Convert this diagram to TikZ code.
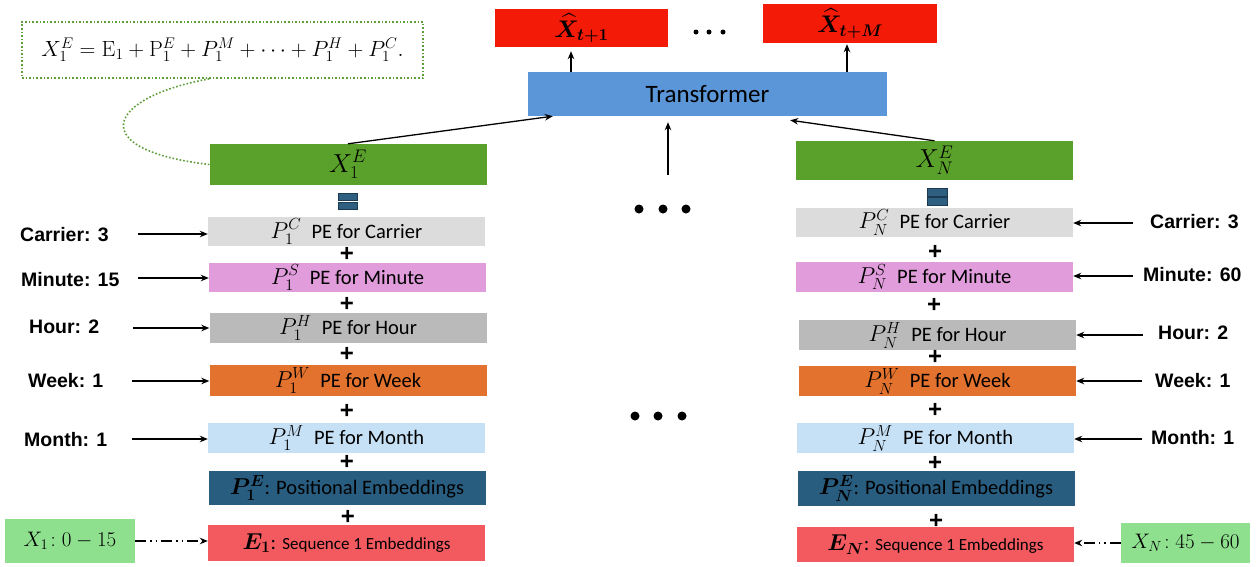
\RequirePackage{fix-cm}
\documentclass[tikz,border=0pt]{standalone}
\usepackage{amsmath}
\usepackage{bm}
\usepackage[no-math]{fontspec}
\setmainfont{Carlito}
\newfontfamily\labfont{Liberation Sans}
\usetikzlibrary{arrows.meta,calc}

\definecolor{xgreen}{HTML}{5AA12B}
\definecolor{carrgray}{HTML}{DCDCDC}
\definecolor{minorchid}{HTML}{E09CDB}
\definecolor{hourgray}{HTML}{BABABA}
\definecolor{weekorange}{HTML}{E2722E}
\definecolor{monthblue}{HTML}{C6E1F5}
\definecolor{posblue}{HTML}{285D80}
\definecolor{seqred}{HTML}{F25A5F}
\definecolor{inpgreen}{HTML}{8EE08F}
\definecolor{trblue}{HTML}{5A96D8}
\definecolor{outred}{HTML}{F31A08}
\definecolor{dotgreen}{HTML}{5E9E3A}
\definecolor{eqfill}{HTML}{2E5E80}
\definecolor{eqline}{HTML}{1C3A52}

% math set slightly larger than the surrounding text
\newcommand{\pemath}[1]{{\fontsize{23}{24}\selectfont$#1$}}

\begin{document}
\begin{tikzpicture}[x=1pt,y=-1pt,
  bx/.style={rectangle, inner sep=0pt, minimum width=277pt,
    font=\fontsize{20.5}{24}\selectfont},
  plus/.style={inner sep=0pt, font=\labfont\bfseries\fontsize{24}{24}\selectfont},
  lab/.style={inner sep=0pt, anchor=west, font=\labfont\bfseries\fontsize{19.5}{22}\selectfont},
  arr/.style={line width=1.3pt, -{Stealth[length=8pt,width=6.5pt]}},
  dd/.style={arr, dash pattern=on 11pt off 4pt on 1.5pt off 4pt on 1.5pt off 4pt},
  eqbar/.style={draw=eqline, fill=eqfill, line width=0.8pt},
  dot/.style={circle, fill=black, inner sep=0pt}
]
\useasboundingbox (0,0) rectangle (1256,566);
\fill[white] (0,0) rectangle (1256,566);

% formula box
\node[draw=dotgreen, line width=1.6pt, dotted, rectangle, inner sep=0pt,
  minimum width=401pt, minimum height=56pt, font=\fontsize{22}{26}\selectfont]
  (formula) at (222.5,50)
  {$X_1^E=\mathrm{E}_1+\mathrm{P}_1^E+P_1^M+\cdots+P_1^H+P_1^C.$};

% ---------------- left column ----------------
\node[bx, fill=xgreen, minimum height=41pt, font=\fontsize{26}{28}\selectfont] (gl) at (348,164.5) {$X_1^E$};
\node[bx, fill=carrgray, minimum height=29pt] (cl) at (346.5,231.5) {\pemath{P_1^C}\enspace PE for Carrier};
\node[bx, fill=minorchid, minimum height=29pt] (ml) at (347.5,277.5) {\pemath{P_1^S}\enspace PE for Minute};
\node[bx, fill=hourgray, minimum height=30pt] (hl) at (348,328) {\pemath{P_1^H}\enspace PE for Hour};
\node[bx, fill=weekorange, minimum height=31pt] (wl) at (348,380.5) {\pemath{P_1^W}\enspace PE for Week};
\node[bx, fill=monthblue, minimum height=30pt] (nl) at (346.5,438) {\pemath{P_1^M}\enspace PE for Month};
\node[bx, fill=posblue, minimum height=34pt] (pl) at (347,488) {\pemath{\bm{P_1^E}}: Positional Embeddings};
\node[bx, fill=seqred, minimum height=36pt] (sl) at (346.5,543) {\pemath{\bm{E_1}}: {\fontsize{17}{20}\selectfont Sequence 1 Embeddings}};

\draw[eqbar] (338,193) rectangle (357,200);
\draw[eqbar] (338,202) rectangle (357,209);
\node[plus] (pl1) at (347,254) {+};
\node[plus] (pl2) at (347,304) {+};
\node[plus] (pl3) at (347,354) {+};
\node[plus] (pl4) at (347,411) {+};
\node[plus] (pl5) at (347,462) {+};
\node[plus] (pl6) at (348,517) {+};

\node[rectangle, fill=inpgreen, inner sep=0pt, minimum width=130pt, minimum height=44pt,
  font=\fontsize{21}{24}\selectfont] (xl) at (70,541) {$X_1\!:0-15$};

\node[lab] (lc) at (20,235) {Carrier: 3};
\node[lab] (lm) at (21,280) {Minute: 15};
\node[lab] (lh) at (29,327) {Hour: 2};
\node[lab] (lw) at (28,381) {Week: 1};
\node[lab] (ln) at (24,440) {Month: 1};
\coordinate (tlc) at (138,234);
\coordinate (tlm) at (138,278);
\coordinate (tlh) at (133,328);
\coordinate (tlw) at (132,381);
\coordinate (tln) at (132,439);
\draw[arr] (tlc) -- (tlc -| cl.west);
\draw[arr] (tlm) -- (tlm -| ml.west);
\draw[arr] (tlh) -- (tlh -| hl.west);
\draw[arr] (tlw) -- (tlw -| wl.west);
\draw[arr] (tln) -- (tln -| nl.west);
\draw[dd] (xl.east) -- (xl.east -| sl.west);

% ---------------- right column ----------------
\node[bx, fill=xgreen, minimum height=39pt, font=\fontsize{26}{28}\selectfont] (gr) at (934.5,160.5) {$X_N^E$};
\node[bx, fill=carrgray, minimum height=29pt] (cr) at (934.5,222.5) {\pemath{P_N^C}\enspace PE for Carrier};
\node[bx, fill=minorchid, minimum height=30pt] (mr) at (934.5,277) {\pemath{P_N^S}\enspace PE for Minute};
\node[bx, fill=hourgray, minimum height=30pt] (hr) at (937.5,335) {\pemath{P_N^H}\enspace PE for Hour};
\node[bx, fill=weekorange, minimum height=30pt] (wr) at (937.5,381) {\pemath{P_N^W}\enspace PE for Week};
\node[bx, fill=monthblue, minimum height=30pt] (nr) at (935.5,438) {\pemath{P_N^M}\enspace PE for Month};
\node[bx, fill=posblue, minimum height=35pt] (pr) at (936,488.5) {\pemath{\bm{P_N^E}}: Positional Embeddings};
\node[bx, fill=seqred, minimum height=35pt] (sr) at (935.5,544.5) {\pemath{\bm{E_N}}: {\fontsize{17}{20}\selectfont Sequence 1 Embeddings}};

\draw[eqbar] (927,188) rectangle (947,196);
\draw[eqbar] (927,197) rectangle (947,205);
\node[plus] (pr1) at (935,252) {+};
\node[plus] (pr2) at (934,305) {+};
\node[plus] (pr3) at (935,357) {+};
\node[plus] (pr4) at (935,410) {+};
\node[plus] (pr5) at (935,463) {+};
\node[plus] (pr6) at (936,521) {+};

\node[rectangle, fill=inpgreen, inner sep=0pt, minimum width=129pt, minimum height=40pt,
  font=\fontsize{21}{24}\selectfont] (xr) at (1185.5,543) {$X_N\!:45-60$};

\node[lab] (rc) at (1150,222) {Carrier: 3};
\node[lab] (rm) at (1143,275) {Minute: 60};
\node[lab] (rh) at (1158,333) {Hour: 2};
\node[lab] (rw) at (1155,381) {Week: 1};
\node[lab] (rn) at (1151,438) {Month: 1};
\coordinate (trc) at (1133,223);
\coordinate (trm) at (1133,276);
\coordinate (trh) at (1143,335);
\coordinate (trw) at (1142,381);
\coordinate (trn) at (1142,439);
\draw[arr] (trc) -- (trc -| cr.east);
\draw[arr] (trm) -- (trm -| mr.east);
\draw[arr] (trh) -- (trh -| hr.east);
\draw[arr] (trw) -- (trw -| wr.east);
\draw[arr] (trn) -- (trn -| nr.east);
\draw[dd] (xr.west) -- (xr.west -| sr.east);

% ---------------- transformer and outputs ----------------
\node[rectangle, fill=trblue, inner sep=0pt, minimum width=359pt, minimum height=44pt,
  font=\fontsize{25}{30}\selectfont] (tr) at (707.5,94) {Transformer};
\node[rectangle, fill=outred, inner sep=0pt, minimum width=173pt, minimum height=38pt,
  font=\fontsize{24}{26}\selectfont] (o1) at (581.5,28) {$\widehat{\bm{X}}_{\bm{t+1}}$};
\node[rectangle, fill=outred, inner sep=0pt, minimum width=174pt, minimum height=39pt,
  font=\fontsize{24}{26}\selectfont] (o2) at (850,23.5) {$\widehat{\bm{X}}_{\bm{t+M}}$};

\coordinate (a1) at (571,72);
\coordinate (a2) at (847,72);
\draw[arr, shorten >=4pt] (a1) -- (a1 |- o1.south);
\draw[arr, shorten >=1pt] (a2) -- (a2 |- o2.south);

\coordinate (m0) at (668,175);
\draw[arr] (gl.north) -- ($(tr.south west)+(25,0)$);
\draw[arr] (gr.north) -- ($(tr.south east)+(-97,4)$);
\draw[arr, shorten >=6pt] (m0) -- (m0 |- tr.south);

% ellipses
\node[dot, minimum size=5pt] (e1) at (696,32) {};
\node[dot, minimum size=5pt] (e2) at (709,32) {};
\node[dot, minimum size=5pt] (e3) at (723,32) {};
\node[dot, minimum size=9pt] (f1) at (639,209) {};
\node[dot, minimum size=9pt] (f2) at (663,209) {};
\node[dot, minimum size=9pt] (f3) at (686,209) {};
\node[dot, minimum size=9pt] (g1) at (635,416) {};
\node[dot, minimum size=9pt] (g2) at (658,416) {};
\node[dot, minimum size=9pt] (g3) at (682,416) {};

% dotted link from the formula to the first embedding
\draw[dotgreen, line width=1.6pt, dotted] ($(formula.south west)+(188,0)$)
  .. controls (105,98) and (85,150) .. (gl.west);
\end{tikzpicture}
\end{document}
